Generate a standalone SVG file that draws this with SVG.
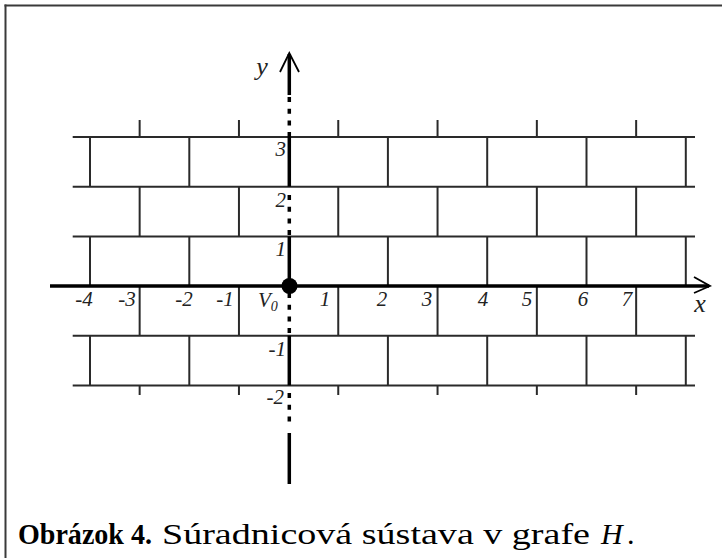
<svg xmlns="http://www.w3.org/2000/svg" width="722" height="558" viewBox="0 0 722 558">
<style>
.frame{stroke:#3a3a3a;stroke-width:2;fill:none}
.grid line{stroke:#2a2a2a;stroke-width:2}
.axis{stroke:#000;stroke-width:3.5;fill:none}
.dash{stroke:#000;stroke-width:3.5;stroke-dasharray:5 6.7;fill:none}
.barb{stroke:#000;stroke-width:1.8;fill:none}
.lbl{font-family:"Liberation Serif",serif;font-style:italic;font-size:21px;fill:#222}
.cap{font-family:"Liberation Serif",serif;font-size:30px;fill:#000}
</style>
<rect width="722" height="558" fill="#fff"/>
<g id="frame">
<line class="frame" x1="4.5" y1="5.5" x2="722" y2="5.5"/>
<line class="frame" x1="5.5" y1="4.5" x2="5.5" y2="558"/>
</g>
<g id="grid" class="grid">
<line x1="72.7" y1="137" x2="695" y2="137"/>
<line x1="72.7" y1="186.7" x2="695" y2="186.7"/>
<line x1="72.7" y1="236.4" x2="695" y2="236.4"/>
<line x1="72.7" y1="335.7" x2="695" y2="335.7"/>
<line x1="72.7" y1="385.4" x2="695" y2="385.4"/>
<line x1="139.65" y1="120" x2="139.65" y2="137"/>
<line x1="238.95" y1="120" x2="238.95" y2="137"/>
<line x1="338.25" y1="120" x2="338.25" y2="137"/>
<line x1="437.55" y1="120" x2="437.55" y2="137"/>
<line x1="536.85" y1="120" x2="536.85" y2="137"/>
<line x1="636.15" y1="120" x2="636.15" y2="137"/>
<line x1="90" y1="137" x2="90" y2="186.7"/>
<line x1="189.3" y1="137" x2="189.3" y2="186.7"/>
<line x1="387.9" y1="137" x2="387.9" y2="186.7"/>
<line x1="487.2" y1="137" x2="487.2" y2="186.7"/>
<line x1="586.5" y1="137" x2="586.5" y2="186.7"/>
<line x1="685.8" y1="137" x2="685.8" y2="186.7"/>
<line x1="139.65" y1="186.7" x2="139.65" y2="236.4"/>
<line x1="238.95" y1="186.7" x2="238.95" y2="236.4"/>
<line x1="338.25" y1="186.7" x2="338.25" y2="236.4"/>
<line x1="437.55" y1="186.7" x2="437.55" y2="236.4"/>
<line x1="536.85" y1="186.7" x2="536.85" y2="236.4"/>
<line x1="636.15" y1="186.7" x2="636.15" y2="236.4"/>
<line x1="90" y1="236.4" x2="90" y2="286"/>
<line x1="189.3" y1="236.4" x2="189.3" y2="286"/>
<line x1="387.9" y1="236.4" x2="387.9" y2="286"/>
<line x1="487.2" y1="236.4" x2="487.2" y2="286"/>
<line x1="586.5" y1="236.4" x2="586.5" y2="286"/>
<line x1="685.8" y1="236.4" x2="685.8" y2="286"/>
<line x1="139.65" y1="286" x2="139.65" y2="335.7"/>
<line x1="238.95" y1="286" x2="238.95" y2="335.7"/>
<line x1="338.25" y1="286" x2="338.25" y2="335.7"/>
<line x1="437.55" y1="286" x2="437.55" y2="335.7"/>
<line x1="536.85" y1="286" x2="536.85" y2="335.7"/>
<line x1="636.15" y1="286" x2="636.15" y2="335.7"/>
<line x1="90" y1="335.7" x2="90" y2="385.4"/>
<line x1="189.3" y1="335.7" x2="189.3" y2="385.4"/>
<line x1="387.9" y1="335.7" x2="387.9" y2="385.4"/>
<line x1="487.2" y1="335.7" x2="487.2" y2="385.4"/>
<line x1="586.5" y1="335.7" x2="586.5" y2="385.4"/>
<line x1="685.8" y1="335.7" x2="685.8" y2="385.4"/>
<line x1="139.65" y1="385.4" x2="139.65" y2="395"/>
<line x1="238.95" y1="385.4" x2="238.95" y2="395"/>
<line x1="338.25" y1="385.4" x2="338.25" y2="395"/>
<line x1="437.55" y1="385.4" x2="437.55" y2="395"/>
<line x1="536.85" y1="385.4" x2="536.85" y2="395"/>
<line x1="636.15" y1="385.4" x2="636.15" y2="395"/>
</g>
<g id="connectors">
<g id="x-axis">
<line class="axis" x1="50" y1="286" x2="709" y2="286"/>
<polyline class="barb" points="694,277 710,286 694,293"/>
</g>
<g id="y-axis">
<line class="axis" x1="289.3" y1="54" x2="289.3" y2="95"/>
<polyline class="barb" points="280,72 289.3,53 299,72"/>
<line class="dash" x1="289.3" y1="97" x2="289.3" y2="137"/>
<line class="axis" x1="289.3" y1="137" x2="289.3" y2="186.7"/>
<line class="dash" x1="289.3" y1="195" x2="289.3" y2="236.4"/>
<line class="axis" x1="289.3" y1="236.4" x2="289.3" y2="286"/>
<line class="dash" x1="289.3" y1="293" x2="289.3" y2="335.7"/>
<line class="axis" x1="289.3" y1="335.7" x2="289.3" y2="385.4"/>
<line class="dash" x1="289.3" y1="393" x2="289.3" y2="427"/>
<line class="axis" x1="289.3" y1="433" x2="289.3" y2="484"/>
</g>
</g>
<g id="origin">
<circle cx="289.5" cy="286" r="8" fill="#000"/>
<text class="lbl" x="258" y="307">V<tspan font-size="14" dy="4">0</tspan></text>
</g>
<g id="labels" class="lbl">
<text x="262" y="75" text-anchor="middle" font-size="26">y</text>
<text x="700" y="312" text-anchor="middle" font-size="26">x</text>
<text x="84" y="306" text-anchor="middle">-4</text>
<text x="127" y="306" text-anchor="middle">-3</text>
<text x="184" y="306" text-anchor="middle">-2</text>
<text x="225" y="306" text-anchor="middle">-1</text>
<text x="325" y="306" text-anchor="middle">1</text>
<text x="382" y="306" text-anchor="middle">2</text>
<text x="427" y="306" text-anchor="middle">3</text>
<text x="483" y="306" text-anchor="middle">4</text>
<text x="527" y="306" text-anchor="middle">5</text>
<text x="583" y="306" text-anchor="middle">6</text>
<text x="627" y="306" text-anchor="middle">7</text>
<text x="286" y="156" text-anchor="end">3</text>
<text x="286" y="207" text-anchor="end">2</text>
<text x="286" y="256" text-anchor="end">1</text>
<text x="286" y="356" text-anchor="end">-1</text>
<text x="284" y="404" text-anchor="end">-2</text>
</g>
<g id="caption" class="cap">
<text x="18" y="544" font-weight="bold" textLength="134" lengthAdjust="spacingAndGlyphs">Obrázok 4.</text>
<text x="162" y="544" textLength="428" lengthAdjust="spacingAndGlyphs">Súradnicová sústava v grafe</text>
<text x="601" y="544" font-style="italic">H</text>
<text x="627" y="544">.</text>
</g>
</svg>
